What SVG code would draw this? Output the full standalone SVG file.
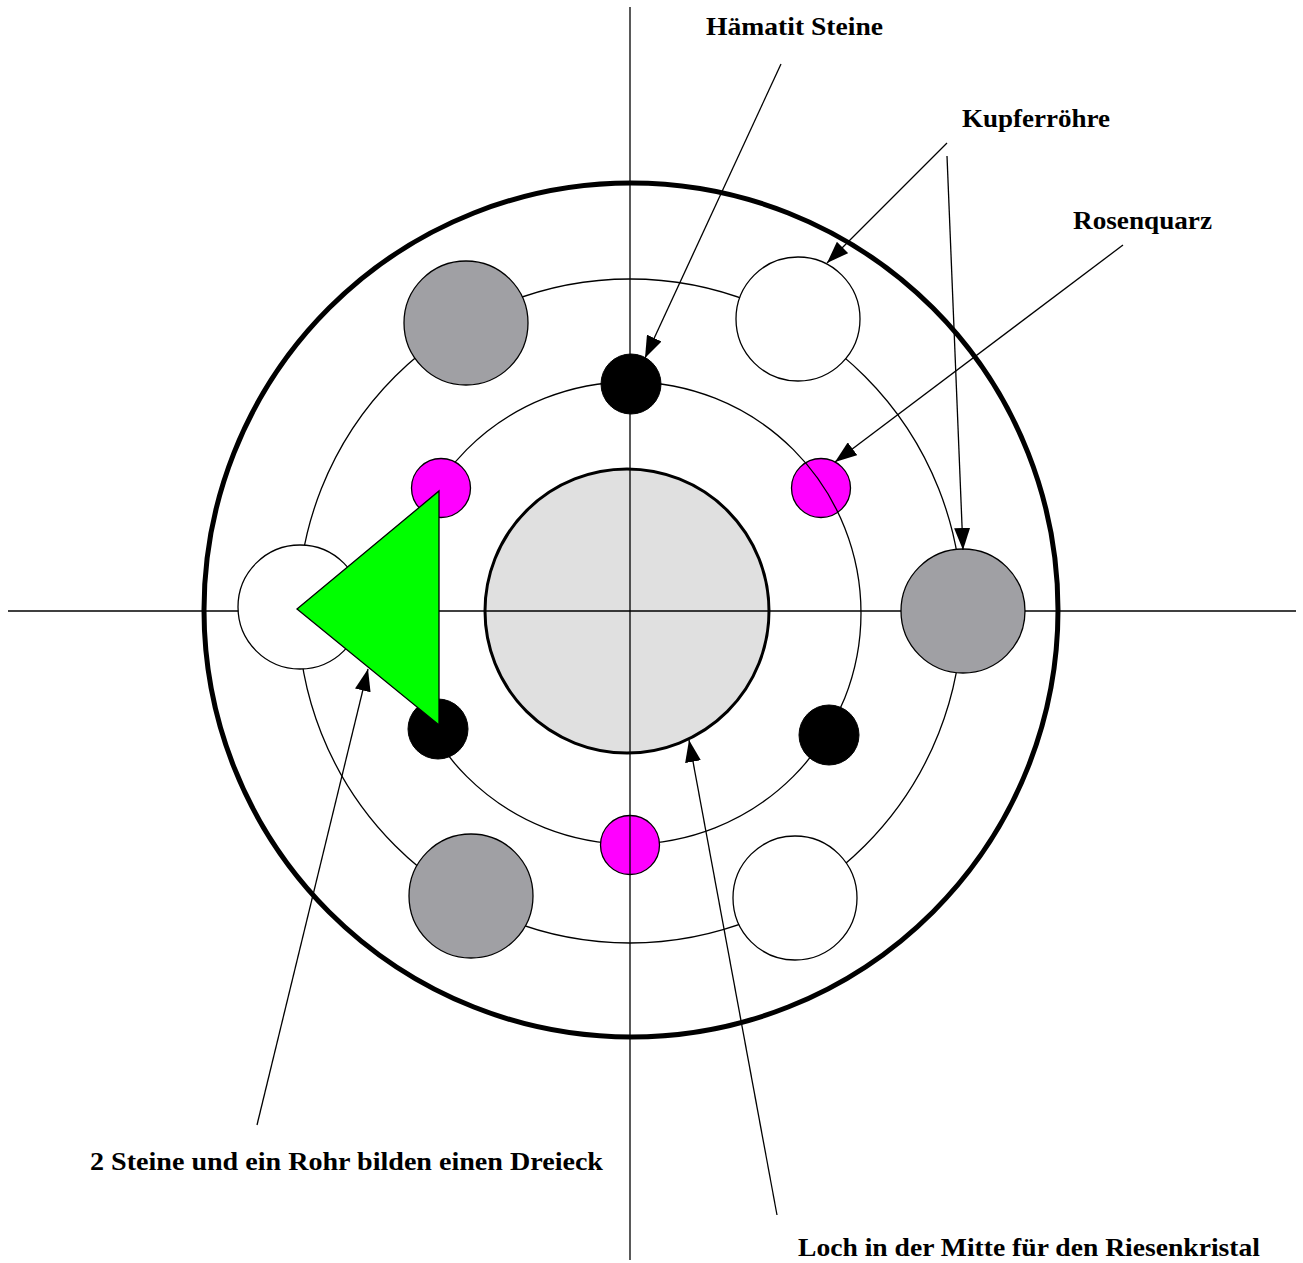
<svg xmlns="http://www.w3.org/2000/svg" width="1303" height="1263" viewBox="0 0 1303 1263">
<style>
.thin{fill:none;stroke:#000;stroke-width:1.3}
.big{stroke:#000;stroke-width:1.3}
.gray{fill:#a0a0a4}
.white{fill:#fff}
.black{fill:#000;stroke:#000;stroke-width:1}
.mag{fill:#ff00ff;stroke:#000;stroke-width:1.3}
.axis{stroke:#000;stroke-width:1.3}
.conn{stroke:#000;stroke-width:1.3;fill:none;marker-end:url(#ah)}
.lbl{font-family:"Liberation Serif","Times New Roman",serif;font-weight:bold;font-size:26px;fill:#000}
</style>
<defs>
<marker id="ah" viewBox="0 0 22 16" refX="22" refY="8" markerWidth="22" markerHeight="16" orient="auto" markerUnits="userSpaceOnUse">
<path d="M0,0 L22,8 L0,16 z" fill="#000"/>
</marker>
</defs>
<rect width="1303" height="1263" fill="#fff"/>
<g id="outer-ring"><circle cx="631" cy="610" r="427" fill="none" stroke="#000" stroke-width="5"/></g>
<g id="middle-ring"><circle cx="630" cy="611" r="332" class="thin"/></g>
<g id="center-hole"><circle cx="627" cy="611" r="142" fill="#e0e0e0" stroke="#000" stroke-width="3"/></g>
<g id="rose-right"><circle cx="821" cy="488" r="29.5" class="mag"/></g>
<g id="inner-ring"><circle cx="630" cy="613" r="231" class="thin"/></g>
<g id="rose-bottom"><circle cx="630" cy="845" r="29.5" class="mag"/></g>
<g id="axes">
<line x1="630" y1="7" x2="630" y2="1260" class="axis"/>
<line x1="8" y1="611" x2="1296" y2="611" class="axis"/>
</g>
<g id="tube-nw"><circle cx="466" cy="323" r="62" class="big gray"/></g>
<g id="tube-ne"><circle cx="798" cy="319" r="62" class="big white"/></g>
<g id="tube-w"><circle cx="300" cy="607" r="62" class="big white"/></g>
<g id="tube-e"><circle cx="963" cy="611" r="62" class="big gray"/></g>
<g id="tube-sw"><circle cx="471" cy="896" r="62" class="big gray"/></g>
<g id="tube-se"><circle cx="795" cy="898" r="62" class="big white"/></g>
<g id="hem-top"><circle cx="631" cy="384" r="30" class="black"/></g>
<g id="hem-sw"><circle cx="438" cy="729" r="30" class="black"/></g>
<g id="hem-se"><circle cx="829" cy="735" r="30" class="black"/></g>
<g id="rose-left"><circle cx="441" cy="488" r="29.5" class="mag"/></g>
<g id="triangle"><polygon points="297,609 439,491 439,725" fill="#00ff00" stroke="#000" stroke-width="1.3"/></g>
<g id="connectors">
<line x1="781" y1="64" x2="645" y2="358" class="conn"/>
<line x1="947" y1="143" x2="827" y2="263" class="conn"/>
<line x1="947" y1="156" x2="963" y2="550" class="conn"/>
<line x1="1123" y1="245" x2="835" y2="462" class="conn"/>
<line x1="257" y1="1125" x2="368" y2="669" class="conn"/>
<line x1="777" y1="1215" x2="689" y2="740" class="conn"/>
</g>
<g id="labels">
<text class="lbl" x="706" y="35" textLength="177" lengthAdjust="spacingAndGlyphs">Hämatit Steine</text>
<text class="lbl" x="962" y="127" textLength="148" lengthAdjust="spacingAndGlyphs">Kupferröhre</text>
<text class="lbl" x="1073" y="229" textLength="139" lengthAdjust="spacingAndGlyphs">Rosenquarz</text>
<text class="lbl" x="90" y="1170" textLength="513" lengthAdjust="spacingAndGlyphs">2 Steine und ein Rohr bilden einen Dreieck</text>
<text class="lbl" x="798" y="1256" textLength="462" lengthAdjust="spacingAndGlyphs">Loch in der Mitte für den Riesenkristal</text>
</g>
</svg>
